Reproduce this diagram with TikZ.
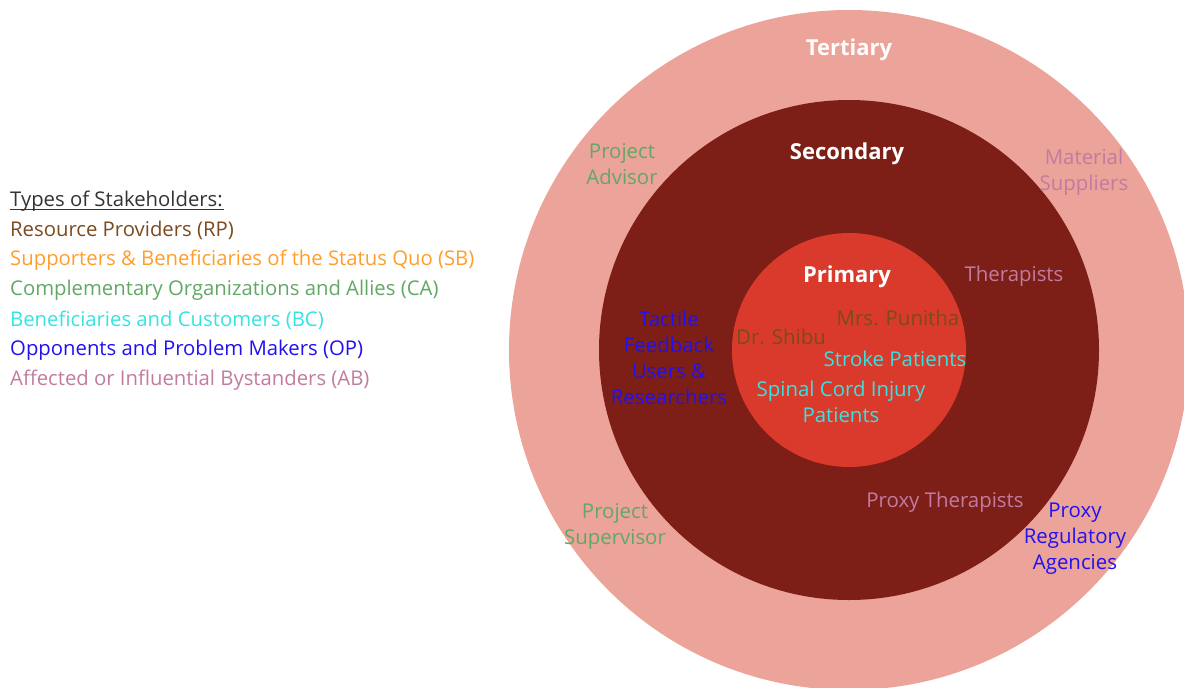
\documentclass[tikz,border=0pt]{standalone}
\usepackage{fontspec}
\setmainfont{Open Sans}
\definecolor{tertiary}{HTML}{EBA39A}
\definecolor{secondary}{HTML}{7D1F16}
\definecolor{primary}{HTML}{D93A2B}
\definecolor{rpcol}{HTML}{7B4A1E}
\definecolor{sbcol}{HTML}{FF9E2C}
\definecolor{cacol}{HTML}{62A865}
\definecolor{bccol}{HTML}{35E3E3}
\definecolor{opcol}{HTML}{2211EE}
\definecolor{abcol}{HTML}{C27BA0}
\definecolor{headcol}{HTML}{333333}
\tikzset{
  ring/.style={font=\fontsize{22}{26}\selectfont\bfseries, text=white},
  who/.style={font=\fontsize{20.4}{26}\selectfont, align=center, inner sep=0pt},
  legend/.style={font=\fontsize{20.3}{26}\selectfont, anchor=west, inner sep=0pt}
}
\begin{document}
\begin{tikzpicture}[x=1pt, y=-1pt]
    \useasboundingbox (0,0) rectangle (1184,688);
    % Les trois cercles
    \begin{scope}
        \clip (0,0) rectangle (1184,688);
        \fill[tertiary] (849, 350) circle (340);
        \fill[secondary] (849, 350) circle (250);
        \fill[primary] (849, 350) circle (117);
    \end{scope}
    \node[ring] (tert) at (849, 50) {Tertiary};
    \node[ring] (sec) at (847, 154) {Secondary};
    \node[ring] (prim) at (847, 277) {Primary};

    % Légende à gauche
    \node[legend, text=headcol] (head) at (10, 201) {Types of Stakeholders:};
    \draw[headcol, line width=1.2pt] (head.base west) ++(0,3) -- ++(214,0);
    \foreach \lbl/\col [count=\i] in {Resource Providers (RP)/rpcol,
        Supporters \& Beneficiaries of the Status Quo (SB)/sbcol,
        Complementary Organizations and Allies (CA)/cacol,
        Beneficiaries and Customers (BC)/bccol,
        Opponents and Problem Makers (OP)/opcol,
        Affected or Influential Bystanders (AB)/abcol} {
        \node[legend, text=\col] (leg\i) at (10, {201 + 29.8*\i}) {\lbl};
    }

    % Parties prenantes
    \node[who, text=cacol] (advisor) at (622, 164) {Project\\Advisor};
    \node[who, text=abcol] (material) at (1084, 172) {Material\\Suppliers};
    \node[who, text=abcol] (therap) at (1014, 276) {Therapists};
    \node[who, text=rpcol] (punitha) at (898, 318) {Mrs. Punitha};
    \node[who, text=rpcol] (shibu) at (781, 337) {Dr. Shibu};
    \node[who, text=bccol] (stroke) at (895, 359) {Stroke Patients};
    \node[who, text=bccol] (spinal) at (841, 402) {Spinal Cord Injury\\Patients};
    \node[who, text=opcol] (tactile) at (669, 358) {Tactile\\Feedback\\Users \&\\Researchers};
    \node[who, text=abcol] (proxyth) at (945, 502) {Proxy Therapists};
    \node[who, text=cacol] (supervisor) at (615, 526) {Project\\Supervisor};
    \node[who, text=opcol] (regul) at (1075, 539) {Proxy\\Regulatory\\Agencies};
\end{tikzpicture}
\end{document}
